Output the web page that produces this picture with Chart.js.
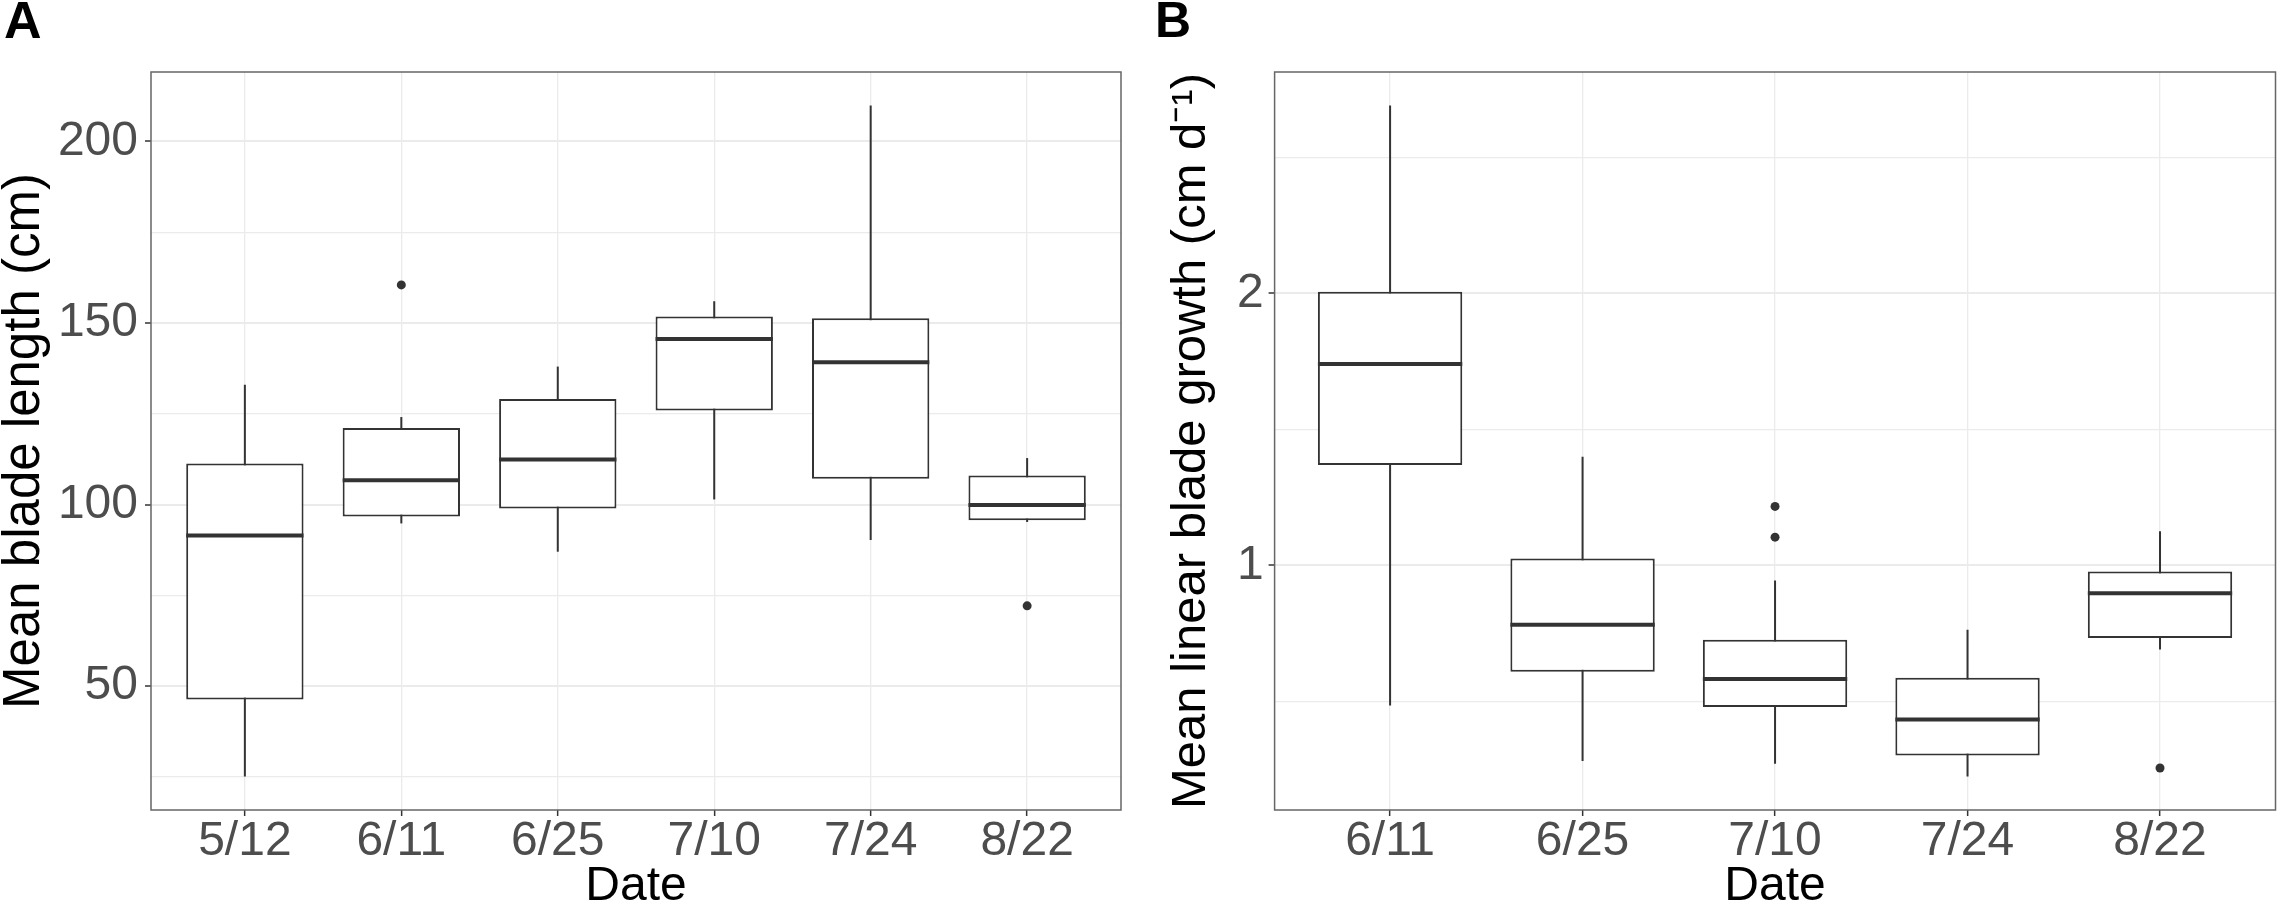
<!DOCTYPE html>
<html>
<head>
<meta charset="utf-8">
<script src="https://cdn.jsdelivr.net/npm/chart.js@4.4.1/dist/chart.umd.min.js"></script>
<style>
html,body{margin:0;padding:0;background:#ffffff;}
#wrap{position:relative;width:2280px;height:911px;overflow:hidden;}
canvas{position:absolute;top:0;}
#cA{left:0;}
#cB{left:1140px;}
</style>
</head>
<body>
<div id="wrap">
<canvas id="cA" width="1140" height="911"></canvas>
<canvas id="cB" width="1140" height="911"></canvas>
</div>
<script>
// ---------- Panel A: Mean blade length (cm) ----------
const categoriesA = ['5/12', '6/11', '6/25', '7/10', '7/24', '8/22'];
const lowA  = [25.1, 94.8, 87.0, 101.4, 90.2, 95.2];
const q1A   = [46.3, 96.7, 98.9, 125.9, 107.1, 95.7];
const medA  = [91.5, 106.7, 112.4, 145.6, 139.2, 99.9];
const q3A   = [111.3, 121.1, 129.1, 151.8, 151.3, 108.0];
const highA = [133.0, 124.1, 138.0, 156.0, 209.9, 112.8];
const outlierCatA = ['6/11', '8/22'];
const outlierValA = [160.5, 72.1];
const majorTicksA = [50, 100, 150, 200];
const minorTicksA = [25, 75, 125, 175];

// ---------- Panel B: Mean linear blade growth (cm d-1) ----------
const categoriesB = ['6/11', '6/25', '7/10', '7/24', '8/22'];
const lowB  = [0.485, 0.281, 0.271, 0.224, 0.691];
const q1B   = [1.369, 0.609, 0.479, 0.301, 0.733];
const medB  = [1.741, 0.782, 0.582, 0.433, 0.898];
const q3B   = [2.006, 1.025, 0.727, 0.587, 0.978];
const highB = [2.691, 1.400, 0.945, 0.763, 1.126];
const outlierCatB = ['7/10', '7/10', '8/22'];
const outlierValB = [1.217, 1.104, 0.255];
const majorTicksB = [1, 2];
const minorTicksB = [0.5, 1.5, 2.5];

const FONT = "'Liberation Sans', Arial, Helvetica, sans-serif";
const INK = '#333333';
const GRID = '#EBEBEB';

function makeBoxChart(canvasId, d, st) {
  const n = d.categories.length;
  const allVals = d.low.concat(d.high, d.outVal);
  const lo = Math.min.apply(null, allVals);
  const hi = Math.max.apply(null, allVals);
  const expand = 0.05 * (hi - lo);
  const tickVals = d.major.concat(d.minor).sort((a, b) => a - b);

  const boxData = d.categories.map((c, i) => ({x: i, y: [d.q1[i], d.q3[i]]}));
  const whiskerData = d.categories.map((c, i) => ({x: i, y: [d.low[i], d.high[i]]}));
  const outData = d.outCat.map((c, k) => ({x: d.categories.indexOf(c), y: d.outVal[k]}));

  const extras = {
    id: 'boxExtras',
    afterDatasetsDraw(chart) {
      const ctx = chart.ctx;
      const ys = chart.scales.y;
      const meta = chart.getDatasetMeta(0);
      ctx.save();
      ctx.strokeStyle = INK;
      ctx.lineWidth = 4;
      ctx.lineCap = 'butt';
      meta.data.forEach((bar, i) => {
        const p = bar.getProps(['x', 'width'], true);
        const y = ys.getPixelForValue(d.med[i]);
        ctx.beginPath();
        ctx.moveTo(p.x - p.width / 2, y);
        ctx.lineTo(p.x + p.width / 2, y);
        ctx.stroke();
      });
      const a = chart.chartArea;
      ctx.strokeStyle = '#666666';
      ctx.lineWidth = 1.5;
      ctx.strokeRect(a.left, a.top, a.right - a.left, a.bottom - a.top);
      ctx.restore();
    }
  };

  return new Chart(document.getElementById(canvasId), {
    type: 'bar',
    data: {
      datasets: [
        {
          label: 'box',
          data: boxData,
          backgroundColor: '#ffffff',
          borderColor: INK,
          borderWidth: 2,
          borderSkipped: false,
          grouped: false,
          barPercentage: 0.75,
          categoryPercentage: 1.0
        },
        {
          label: 'whisker',
          data: whiskerData,
          backgroundColor: INK,
          borderWidth: 0,
          grouped: false,
          maxBarThickness: 2,
          barPercentage: 0.75,
          categoryPercentage: 1.0
        },
        {
          type: 'scatter',
          label: 'outliers',
          data: outData,
          backgroundColor: INK,
          borderWidth: 0,
          pointRadius: 4.5,
          pointHoverRadius: 4.5,
          showLine: false
        }
      ]
    },
    options: {
      responsive: false,
      animation: false,
      devicePixelRatio: 1,
      events: [],
      layout: {padding: {left: st.padLeft, right: st.padRight, top: 0, bottom: 0}},
      plugins: {
        legend: {display: false},
        tooltip: {enabled: false},
        title: {
          display: true,
          text: st.letter,
          align: 'start',
          color: '#000000',
          font: {family: FONT, size: st.letterSize, weight: 'bold', lineHeight: 1},
          padding: {top: st.letterTop, bottom: 72 - st.letterSize - st.letterTop}
        }
      },
      scales: {
        x: {
          type: 'linear',
          min: -0.6,
          max: n - 0.4,
          offset: false,
          afterBuildTicks: (s) => { s.ticks = d.categories.map((c, i) => ({value: i})); },
          afterFit: (s) => { s.height = st.xHeight; },
          grid: {
            offset: false,
            color: GRID,
            lineWidth: 1.3,
            drawTicks: true,
            tickLength: 6,
            tickColor: INK,
            tickWidth: 1.5
          },
          border: {display: false},
          ticks: {
            autoSkip: false,
            maxRotation: 0,
            color: '#4D4D4D',
            padding: 1.5,
            font: {family: FONT, size: 48, lineHeight: 1},
            callback: (v) => d.categories[v]
          },
          title: {
            display: true,
            text: 'Date',
            color: '#000000',
            font: {family: FONT, size: 48, lineHeight: 1},
            padding: {top: 0, bottom: 0}
          }
        },
        y: {
          type: 'linear',
          min: lo - expand,
          max: hi + expand,
          beginAtZero: false,
          afterBuildTicks: (s) => { s.ticks = tickVals.map((v) => ({value: v})); },
          afterFit: (s) => { s.width = st.yWidth; },
          grid: {
            color: GRID,
            lineWidth: (c) => (c.tick && d.major.includes(c.tick.value)) ? 2 : 1.3,
            drawTicks: true,
            tickLength: 6,
            tickColor: (c) => (c.tick && d.major.includes(c.tick.value)) ? INK : 'rgba(0,0,0,0)',
            tickWidth: 1.5
          },
          border: {display: false},
          ticks: {
            autoSkip: false,
            color: '#4D4D4D',
            padding: st.yTickPad,
            font: {family: FONT, size: 48, lineHeight: 1},
            callback: (v) => d.major.includes(v) ? String(v) : ''
          },
          title: {
            display: true,
            text: st.yTitle,
            color: '#000000',
            font: {family: FONT, size: st.yTitleSize, lineHeight: 1},
            padding: {top: st.yTitlePad, bottom: 0}
          }
        }
      }
    },
    plugins: [extras]
  });
}

makeBoxChart('cA', {
  categories: categoriesA, low: lowA, q1: q1A, med: medA, q3: q3A, high: highA,
  outCat: outlierCatA, outVal: outlierValA, major: majorTicksA, minor: minorTicksA
}, {
  letter: 'A', letterSize: 52, letterTop: -2.3,
  padLeft: 4, padRight: 19, yWidth: 147, xHeight: 101,
  yTickPad: 7, yTitle: 'Mean blade length (cm)', yTitleSize: 51, yTitlePad: -4.5
});

makeBoxChart('cB', {
  categories: categoriesB, low: lowB, q1: q1B, med: medB, q3: q3B, high: highB,
  outCat: outlierCatB, outVal: outlierValB, major: majorTicksB, minor: minorTicksB
}, {
  letter: 'B', letterSize: 50, letterTop: -1.3,
  padLeft: 15, padRight: 3, yWidth: 119.6, xHeight: 101,
  yTickPad: 5, yTitle: 'Mean linear blade growth (cm d\u207B\u00B9)', yTitleSize: 49, yTitlePad: 11.8
});
</script>
</body>
</html>
